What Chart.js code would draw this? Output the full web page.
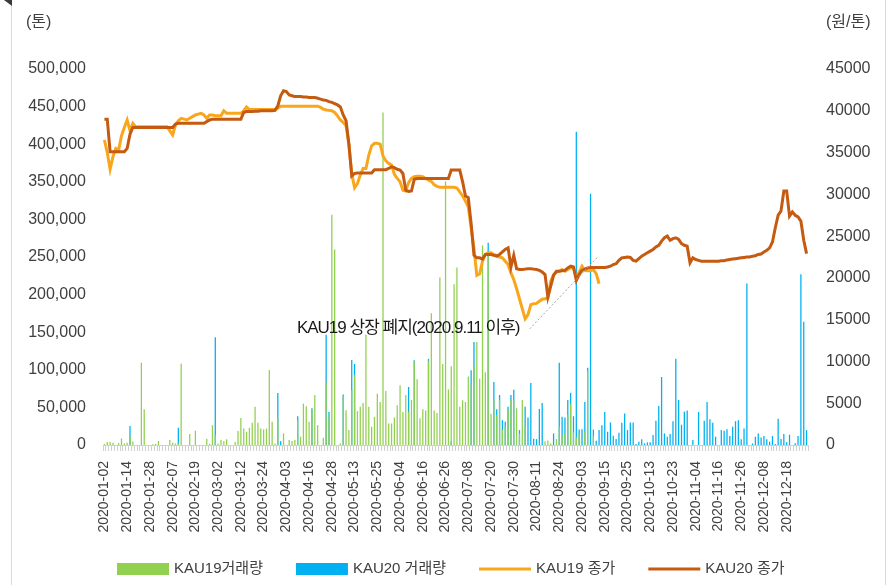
<!DOCTYPE html>
<html>
<head>
<meta charset="utf-8">
<script src="https://cdn.jsdelivr.net/npm/chart.js@4.4.1/dist/chart.umd.min.js"></script>
<style>
  html, body { margin: 0; padding: 0; background: #fff; }
  #wrap { width: 891px; height: 585px; position: relative; }
</style>
</head>
<body>
<div id="wrap"><canvas id="chart"></canvas></div>
<script>
// KRX trading days, 2020 (weekends and market holidays skipped)
const holidays = ['2020-01-01', '2020-01-24', '2020-01-27', '2020-04-15', '2020-04-30', '2020-05-01',
  '2020-05-05', '2020-08-17', '2020-09-30', '2020-10-01', '2020-10-02', '2020-10-09', '2020-12-25', '2020-12-31'];
const dates = [];
for (let d = new Date(Date.UTC(2020, 0, 2)); d.getUTCFullYear() === 2020; d.setUTCDate(d.getUTCDate() + 1)) {
  const s = d.toISOString().slice(0, 10);
  const wd = d.getUTCDay();
  if (wd === 0 || wd === 6 || holidays.includes(s)) continue;
  dates.push(s);
}
const labelEvery = 8;

// left axis (톤)
const volTicks = { min: 0, max: 500000, step: 50000 };
// right axis (원/톤)
const priceTicks = { min: 0, max: 45000, step: 5000 };

// KAU19 거래량 (tons), trading days up to 2020-09-11
const kau19Vol = [
  1500, 4000, 4000, 3000, 0, 2500, 8800, 2000, 3000, 11900,
  4500, 0, 0, 109400, 47600, 0, 0, 1000, 1500, 5300,
  0, 0, 0, 6600, 3000, 2000, 2000, 108000, 0, 0,
  14500, 0, 19000, 0, 0, 0, 8400, 1500, 26400, 13000,
  2000, 6600, 5000, 7500, 0, 0, 4000, 18500, 36000, 22000,
  17600, 22900, 29500, 50700, 29500, 22000, 20700, 21600, 99700, 30800,
  2000, 37000, 0, 15400, 0, 6600, 5300, 6600, 33000, 11000,
  55000, 51500, 30800, 45800, 66500, 26400, 0, 9700, 83800, 37000,
  306300, 260000, 0, 2000, 65000, 46300, 19800, 73000, 93000, 45000,
  50700, 56000, 146700, 50700, 24200, 37400, 68200, 57200, 442000, 71700,
  28600, 28600, 36500, 52800, 79300, 44000, 66500, 44000, 59900, 111000,
  87300, 35700, 47600, 46000, 112000, 175300, 46000, 42400, 222900, 107700,
  350500, 74000, 104700, 213900, 235900, 50700, 59500, 57200, 91200, 79300,
  106000, 137000, 88100, 265400, 96900, 258000, 41500, 60000, 40000, 60000,
  20000, 25000, 48000, 60000, 60000, 48900, 15000, 59900, 25000, 0,
  0, 0, 0, 0, 0, 5000, 6000, 2000, 0, 8000,
  24000, 11900, 15000, 40000, 55000, 17000, 10000, 15000, 0, 18000,
  98300, 0, 12000, 0, 0
];

// KAU20 거래량 (tons)
const kau20Vol = [
  0, 0, 0, 0, 0, 0, 0, 0, 0, 25100,
  0, 0, 0, 0, 0, 0, 0, 0, 0, 0,
  0, 0, 0, 0, 0, 0, 22900, 0, 0, 0,
  0, 0, 0, 0, 0, 0, 0, 0, 0, 143200,
  0, 0, 0, 0, 0, 0, 0, 0, 0, 0,
  0, 0, 0, 0, 0, 0, 0, 0, 0, 0,
  0, 69100, 5000, 0, 0, 0, 0, 0, 38300, 0,
  0, 0, 0, 48900, 0, 0, 0, 0, 146700, 44000,
  0, 0, 0, 0, 67000, 0, 0, 113000, 107700, 0,
  0, 0, 0, 0, 0, 0, 0, 0, 0, 0,
  0, 0, 0, 0, 0, 0, 0, 77100, 0, 112800,
  0, 0, 0, 0, 114600, 0, 0, 0, 0, 0,
  0, 0, 5000, 0, 0, 0, 0, 0, 0, 99500,
  137000, 0, 0, 0, 0, 269000, 0, 83800, 47600, 66500,
  33000, 30800, 50700, 66500, 73500, 0, 19800, 0, 50700, 36500,
  82500, 8400, 7900, 48000, 56000, 0, 0, 0, 15400, 0,
  109400, 37500, 36500, 60000, 69400, 38300, 416700, 20500, 21000, 57200,
  102600, 334100, 20500, 5700, 19800, 26400, 44000, 17600, 30000, 12300,
  7900, 16300, 29500, 41900, 19800, 30000, 30000, 1300, 4400, 7500,
  2200, 3500, 3500, 13200, 32100, 52000, 90400, 15400, 11000, 14500,
  31700, 114600, 60000, 26900, 44500, 45800, 0, 6600, 0, 44000,
  0, 32100, 57200, 34400, 29500, 11000, 0, 19800, 18900, 21100,
  11900, 24200, 31700, 33000, 7500, 22000, 214600, 0, 2200, 11000,
  15400, 10100, 11900, 7500, 4400, 11900, 1300, 34800, 7900, 14500,
  3500, 13600, 0, 2200, 11900, 227000, 164000, 19800
];

// KAU19 종가 (원/톤)
const kau19Price = [
  36500, 35000, 33000, 34500, 35500, 35300, 37000, 38000, 38900, 37600,
  38500, 38100, 38100, 38100, 38100, 38100, 38100, 38100, 38100, 38100,
  38100, 38100, 38100, 37600, 37100, 38300, 38800, 39100, 39000, 38900,
  39100, 39300, 39500, 39600, 39700, 39500, 39100, 39500, 39500, 39400,
  39400, 39400, 40000, 39700, 39700, 39700, 39700, 39700, 39700, 40000,
  40450, 40150, 40150, 40150, 40150, 40150, 40150, 40150, 40150, 40150,
  40150, 40300, 40550, 40550, 40550, 40550, 40550, 40550, 40550, 40550,
  40550, 40550, 40550, 40550, 40550, 40550, 40400, 40200, 40100, 40050,
  40000, 39800, 39400, 38900, 38600, 38200, 36000, 32500, 30800, 31300,
  32300, 33100, 33100, 34700, 35800, 36100, 36100, 36000, 34600, 34000,
  33700, 33500, 32400, 31900, 31500, 30500, 30400, 31400, 31900, 32100,
  32150, 32150, 32100, 31900, 31700, 31550, 31150, 30950, 30850, 30850,
  30850, 30850, 30850, 30850, 30750, 30300, 29800, 29200, 28500, 26000,
  23500, 20300, 20500, 22000, 22800, 23000, 23000, 22800, 22650, 22500,
  22400, 22000, 21600, 20600, 19800, 18700, 17500, 16300, 15100, 15600,
  16800, 16900, 16950, 17200, 17450, 17500, 17600, 19600, 20400, 20700,
  20800, 21000, 20800, 21000, 21250, 21200, 20000, 20700, 21400, 20900,
  20850, 20850, 21000, 20500, 19300
];

// KAU20 종가 (원/톤)
const kau20Price = [
  39000, 39000, 35100, 35100, 35100, 35100, 35100, 35100, 35500, 37200,
  38000, 38000, 38000, 38000, 38000, 38000, 38000, 38000, 38000, 38000,
  38000, 38000, 38000, 38000, 38000, 38400, 38500, 38500, 38500, 38500,
  38500, 38500, 38500, 38500, 38500, 38500, 38700, 38900, 39000, 39000,
  39000, 39000, 39000, 39000, 39000, 39000, 39000, 39000, 39000, 39800,
  39900, 39900, 39900, 39950, 39950, 40000, 40000, 40000, 40000, 40000,
  40050, 40600, 41800, 42400, 42300, 41900, 41800, 41700, 41700, 41700,
  41650, 41650, 41600, 41600, 41600, 41500, 41400, 41300, 41250, 41100,
  41000, 40850, 40700, 40450, 39500, 38800, 36000, 32200, 32500, 32550,
  32550, 32550, 32550, 32550, 32550, 32950, 32950, 32950, 32950, 32950,
  33100, 33300, 33200, 33000, 32900, 32500, 30500, 30350, 30400, 31800,
  31900, 31900, 31900, 31900, 31900, 31900, 31900, 31900, 31900, 31900,
  31900, 31900, 32900, 32900, 32900, 32900, 31500, 29800, 29600, 26500,
  22700, 22400, 22400, 22250, 22800, 22800, 22800, 22700, 22600, 22800,
  23100, 23400, 23600, 21300, 22700, 21100, 21000, 21000, 21050, 21100,
  21100, 21050, 21000, 20900, 20700, 20400, 17700, 19000, 20300, 20800,
  20800, 20850, 20900, 21200, 21400, 21300, 19700, 20400, 20900, 21050,
  21200, 21250, 21250, 21250, 21250, 21250, 21250, 21300, 21400, 21600,
  21700, 22100, 22400, 22450, 22500, 22450, 22100, 22000, 22300, 22600,
  22800, 23000, 23200, 23400, 23700, 23900, 24400, 24800, 25000, 24500,
  24700, 24800, 24600, 24100, 23900, 23800, 21800, 22400, 22200, 22100,
  22000, 22000, 22000, 22000, 22000, 22000, 22000, 22050, 22050, 22150,
  22200, 22250, 22300, 22350, 22400, 22450, 22500, 22500, 22600, 22650,
  22800, 22850, 23100, 23300, 23600, 24300, 26000, 27500, 28000, 30400,
  30400, 27400, 27900, 27500, 27300, 26800, 24500, 22900
];

const seriesNames = ['KAU19거래량', 'KAU20 거래량', 'KAU19 종가', 'KAU20 종가'];
const unitLeft = '(톤)';
const unitRight = '(원/톤)';
const noteText = 'KAU19 상장 폐지(2020.9.11 이후)';
const noteAnchor = [146, 13400];                  // [day index, 원/톤]
const noteLine = [[149.6, 13900], [173.5, 22500]]; // leader line ends

const FONT = "'Liberation Sans', 'Noto Sans CJK KR', sans-serif";
const TXT = '#404040';

const extras = {
  id: 'extras',
  beforeDraw(chart) {
    const { ctx, width, height } = chart;
    ctx.save();
    ctx.fillStyle = '#fff';
    ctx.fillRect(0, 0, width, height);
    ctx.strokeStyle = '#d9d9d9';
    ctx.lineWidth = 1;
    ctx.beginPath();
    ctx.moveTo(11.5, 0); ctx.lineTo(11.5, height);
    ctx.moveTo(885.5, 0); ctx.lineTo(885.5, height);
    ctx.stroke();
    ctx.fillStyle = '#3a3a3a';
    ctx.beginPath();
    ctx.moveTo(4, 0); ctx.lineTo(12, 0); ctx.lineTo(12, 6);
    ctx.closePath();
    ctx.fill();
    ctx.restore();
  },
  afterDraw(chart) {
    const { ctx, chartArea } = chart;
    const x = chart.scales.x, y1 = chart.scales.y1;
    ctx.save();
    ctx.fillStyle = TXT;
    ctx.font = '16px ' + FONT;
    ctx.textBaseline = 'middle';
    ctx.textAlign = 'left';
    ctx.fillText(unitLeft, chartArea.left - 77, chartArea.top - 46);
    ctx.fillText(unitRight, chartArea.right + 18, chartArea.top - 46);

    // leader line for the delisting note
    ctx.strokeStyle = '#a6a6a6';
    ctx.lineWidth = 1;
    ctx.setLineDash([2, 2]);
    ctx.beginPath();
    ctx.moveTo(x.getPixelForValue(noteLine[0][0]), y1.getPixelForValue(noteLine[0][1]));
    ctx.lineTo(x.getPixelForValue(noteLine[1][0]), y1.getPixelForValue(noteLine[1][1]));
    ctx.stroke();
    ctx.setLineDash([]);

    ctx.fillStyle = '#1a1a1a';
    ctx.font = '17px ' + FONT;
    ctx.letterSpacing = '-1px';
    ctx.textAlign = 'right';
    ctx.textBaseline = 'alphabetic';
    ctx.fillText(noteText, x.getPixelForValue(noteAnchor[0]), y1.getPixelForValue(noteAnchor[1]));
    ctx.letterSpacing = '0px';

    // legend row under the axis labels
    const order = [2, 3, 1, 0];
    const ly = chart.height - 16;
    let lx = chartArea.left + 14;
    ctx.font = '15px ' + FONT;
    ctx.textAlign = 'left';
    ctx.textBaseline = 'middle';
    order.forEach(di => {
      const ds = chart.data.datasets[di];
      if (ds.type === 'line') {
        ctx.strokeStyle = ds.borderColor;
        ctx.lineWidth = 3;
        ctx.beginPath();
        ctx.moveTo(lx, ly); ctx.lineTo(lx + 52, ly);
        ctx.stroke();
      } else {
        ctx.fillStyle = ds.backgroundColor;
        ctx.fillRect(lx, ly - 6, 52, 12);
      }
      ctx.fillStyle = TXT;
      ctx.fillText(ds.label, lx + 57, ly);
      lx += 57 + ctx.measureText(ds.label).width + 33;
    });
    ctx.restore();
  }
};

new Chart(document.getElementById('chart'), {
  type: 'bar',
  data: {
    labels: dates,
    datasets: [
      {
        type: 'line', label: seriesNames[3], data: kau20Price, yAxisID: 'y1', order: 0,
        borderColor: '#C55A11', backgroundColor: '#C55A11', borderWidth: 3,
        pointRadius: 0, tension: 0
      },
      {
        type: 'line', label: seriesNames[2], data: kau19Price, yAxisID: 'y1', order: 1,
        borderColor: '#FAA61A', backgroundColor: '#FAA61A', borderWidth: 3,
        pointRadius: 0, tension: 0
      },
      {
        label: seriesNames[0], data: kau19Vol, yAxisID: 'y', order: 2,
        backgroundColor: '#92D050', grouped: false,
        barPercentage: 0.45, categoryPercentage: 1
      },
      {
        label: seriesNames[1], data: kau20Vol, yAxisID: 'y', order: 3,
        backgroundColor: '#00B0F0', grouped: false,
        barPercentage: 0.45, categoryPercentage: 1
      }
    ]
  },
  options: {
    responsive: true,
    maintainAspectRatio: false,
    animation: false,
    layout: { padding: { top: 69, left: 0, right: 0, bottom: 34 } },
    plugins: {
      tooltip: { enabled: false },
      legend: { display: false }
    },
    scales: {
      x: {
        offset: true,
        grid: { display: true, drawOnChartArea: false, drawTicks: true, tickLength: 6, color: '#d0d0d0' },
        border: { color: '#d0d0d0' },
        ticks: {
          autoSkip: false, maxRotation: 90, minRotation: 90, padding: 10,
          color: TXT, font: { family: FONT, size: 14 },
          callback: (v, i) => (i % labelEvery === 0 ? dates[i] : '')
        },
        afterFit: s => { s.height = 106; }
      },
      y: {
        position: 'left',
        min: volTicks.min, max: volTicks.max,
        grid: { display: false }, border: { display: false },
        ticks: {
          stepSize: volTicks.step, padding: 9, color: TXT,
          font: { family: FONT, size: 16 },
          callback: v => v.toLocaleString('en-US')
        },
        afterFit: s => { s.width = 103; }
      },
      y1: {
        position: 'right',
        min: priceTicks.min, max: priceTicks.max,
        grid: { display: false }, border: { display: false },
        ticks: {
          stepSize: priceTicks.step, padding: 10, color: TXT,
          font: { family: FONT, size: 16 },
          callback: v => String(v)
        },
        afterFit: s => { s.width = 83; }
      }
    }
  },
  plugins: [extras]
});
</script>
</body>
</html>
